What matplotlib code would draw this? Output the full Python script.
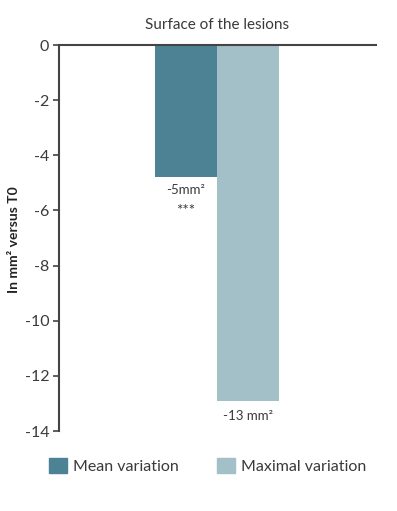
import numpy as np
import matplotlib.pyplot as plt

series = ["Mean variation", "Maximal variation"]
values = [-4.8, -12.9]
bar_labels = ["-5mm²", "-13 mm²"]
signif = ["***", ""]
colors = ["#4c8294", "#a3bfc7"]
yticks = [0, -2, -4, -6, -8, -10, -12, -14]

plt.rcParams['font.family'] = ['Lato', 'DejaVu Sans']
txt = "#3a3a3a"

fig = plt.figure(figsize=(3.97, 5.11), dpi=100)
ax = fig.add_axes([59/397, 1 - 431/511, 317/397, 386/511])

x = np.arange(len(values))
bars = ax.bar(x, values, width=1.0, color=colors)

ax.set_xlim(-2.05, 3.065)
ax.set_ylim(-14, 0)
ax.set_yticks(yticks)
ax.set_yticklabels([str(t) for t in yticks], fontsize=11.5, color=txt)
ax.set_xticks([])
ax.tick_params(axis='y', length=4, width=1.2, color="#444444", pad=3)

for s in ['right', 'bottom']:
    ax.spines[s].set_visible(False)
ax.spines['left'].set_color("#444444")
ax.spines['left'].set_linewidth(1.5)
ax.spines['top'].set_color("#444444")
ax.spines['top'].set_linewidth(1.5)

# labels under the bars
ax.text(x[0], values[0] - 0.25, bar_labels[0], ha='center', va='top',
        fontsize=9.5, color=txt)
ax.text(x[0], values[0] - 0.95, signif[0], ha='center', va='top',
        fontsize=11, color=txt)
ax.text(x[1], values[1] - 0.35, bar_labels[1], ha='center', va='top',
        fontsize=9.5, color=txt)

fig.text(217/397, 1 - 25/511, "Surface of the lesions", ha='center', va='center',
         fontsize=11, color=txt)
fig.text(14/397, 1 - 240/511, "In mm² versus T0", rotation=90, ha='center',
         va='center', fontsize=10, fontweight='bold', color="#222222")

handles = [plt.Rectangle((0, 0), 1, 1, color=c) for c in colors]
fig.legend(handles, series, loc='center left', bbox_to_anchor=(35/397, 1 - 466/511),
           ncol=2, frameon=False, fontsize=11.5, handlelength=1.1, handleheight=1.1,
           columnspacing=2.4, handletextpad=0.4, labelcolor=txt)

fig.savefig("out.png", dpi=100)
